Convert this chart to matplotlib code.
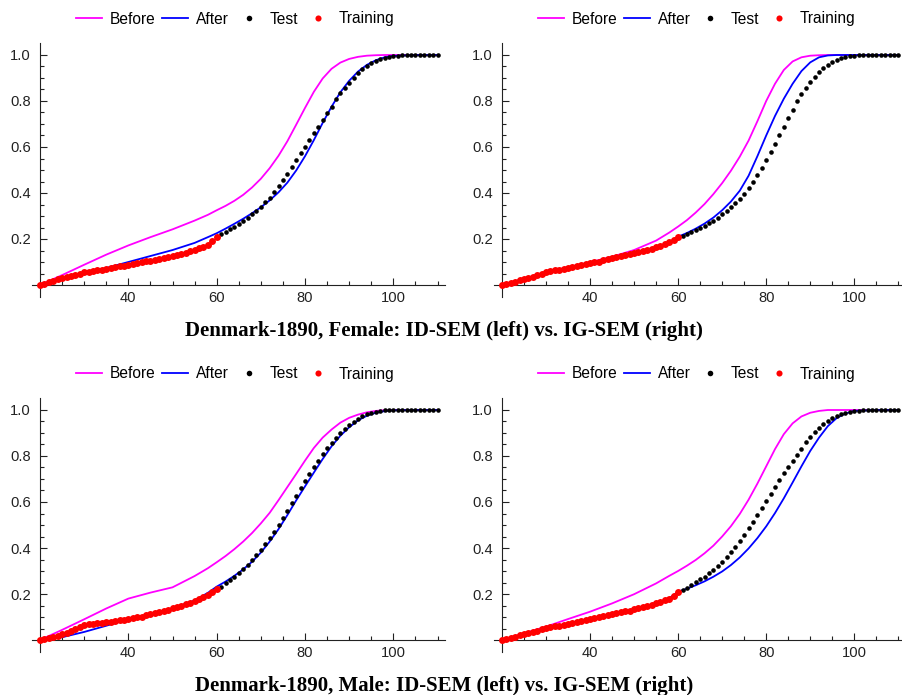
import matplotlib
matplotlib.use("Agg")
import matplotlib.pyplot as plt
from matplotlib.lines import Line2D
import numpy as np

plt.rcParams["font.family"] = ["Liberation Sans", "DejaVu Sans"]

W, H = 902, 695

# ages where the fitted curves were evaluated
ages = [20, 25, 30, 35, 40, 45, 50, 55, 58, 60, 62, 64, 66, 68, 70, 72, 74, 76, 78, 80,
        82, 84, 86, 88, 90, 92, 94, 96, 98, 100, 105, 110]
train_ages = list(range(20, 61))
test_ages = list(range(61, 111))

# Female, ID-SEM
f_id_before = [0, .043, .088, .132, .172, .208, .242, .28, .305, .325, .344, .366, .392, .424,
               .462, .508, .562, .625, .697, .77, .84, .898, .94, .967, .983, .992, .997, .999,
               1, 1, 1, 1]
f_id_after = [0, .03, .052, .074, .1, .126, .152, .183, .208, .225, .245, .266, .288, .312,
              .338, .368, .403, .445, .498, .56, .63, .705, .775, .838, .888, .928, .957, .977,
              .99, .996, 1, 1]
f_id_train = [0, .006, .012, .018, .024, .029, .034, .039, .044, .05, .055, .058, .061, .064,
              .067, .07, .074, .078, .081, .084, .087, .091, .095, .099, .103, .106, .11, .114,
              .118, .122, .126, .131, .136, .141, .146, .152, .159, .167, .176, .19, .207]
f_id_test = [.22, .232, .242, .254, .265, .278, .293, .307, .323, .34,
             .36, .38, .403, .43, .457, .483, .513, .543, .572, .601,
             .63, .66, .688, .717, .746, .775, .807, .833, .858, .88,
             .901, .92, .938, .952, .964, .974, .981, .987, .991, .994,
             .996, .998, .999, 1, 1, 1, 1, 1, 1, 1]

# Female, IG-SEM
f_ig_before = [0, .026, .055, .077, .099, .123, .152, .193, .228, .254, .282, .315, .352, .395,
               .443, .497, .558, .628, .712, .8, .875, .935, .972, .99, .997, .999, 1, 1,
               1, 1, 1, 1]
f_ig_after = [0, .026, .056, .075, .094, .115, .137, .163, .185, .21, .226, .245, .267, .293,
              .325, .363, .41, .475, .56, .65, .735, .81, .875, .93, .968, .99, .998, 1,
              1, 1, 1, 1]
f_ig_train = [0, .005, .01, .015, .02, .025, .031, .036, .042, .05, .058, .061, .064, .067,
              .071, .075, .079, .084, .088, .091, .094, .098, .102, .107, .111, .116, .12, .124,
              .129, .133, .138, .142, .147, .152, .158, .164, .17, .177, .186, .196, .21]
f_ig_test = [.215, .222, .23, .238, .247, .257, .268, .28, .293, .307,
             .322, .339, .357, .376, .397, .42, .447, .478, .51, .545,
             .58, .615, .651, .688, .726, .763, .798, .83, .858, .883,
             .905, .925, .942, .956, .968, .978, .985, .99, .994, .996,
             .998, .999, 1, 1, 1, 1, 1, 1, 1, 1]

# Male, ID-SEM
m_id_before = [0, .044, .09, .137, .18, .206, .229, .278, .312, .338, .365, .395, .428, .465,
               .507, .553, .608, .665, .722, .78, .835, .88, .915, .945, .966, .98, .99, .996,
               .999, 1, 1, 1]
m_id_after = [0, .012, .035, .062, .09, .112, .137, .172, .205, .232, .254, .279, .307, .34,
              .38, .428, .482, .543, .607, .668, .728, .787, .842, .888, .925, .955, .975, .988,
              .995, .999, 1, 1]
m_id_train = [0, .004, .008, .014, .019, .025, .032, .04, .048, .057, .065, .068, .07, .073,
              .075, .077, .08, .082, .085, .088, .091, .094, .098, .102, .107, .112, .116, .12,
              .125, .131, .138, .143, .149, .155, .162, .17, .178, .187, .197, .208, .22]
m_id_test = [.232, .246, .26, .275, .29, .307, .326, .348, .37, .391,
             .417, .443, .471, .5, .529, .561, .594, .626, .659, .691,
             .722, .751, .778, .807, .833, .858, .88, .9, .919, .935,
             .949, .962, .974, .983, .988, .993, .996, .998, 1, 1,
             1, 1, 1, 1, 1, 1, 1, 1, 1, 1]

# Male, IG-SEM
m_ig_before = [0, .029, .058, .091, .123, .159, .199, .246, .279, .3, .323, .348, .377, .41,
               .45, .495, .548, .61, .68, .755, .83, .895, .942, .972, .988, .996, 1, 1,
               1, 1, 1, 1]
m_ig_after = [0, .025, .051, .071, .091, .112, .133, .159, .182, .21, .223, .238, .255, .275,
              .298, .326, .359, .398, .443, .494, .552, .616, .685, .755, .822, .88, .93, .965,
              .985, .996, 1, 1]
m_ig_train = [0, .005, .01, .015, .02, .025, .03, .036, .041, .046, .051, .055, .059, .063,
              .067, .071, .075, .079, .083, .087, .091, .095, .099, .104, .108, .112, .116, .12,
              .124, .128, .133, .138, .143, .148, .153, .159, .165, .172, .18, .192, .21]
m_ig_test = [.217, .228, .239, .251, .264, .275, .29, .304, .323, .341,
             .362, .384, .406, .432, .457, .486, .514, .543, .572, .606,
             .635, .667, .696, .725, .754, .78, .804, .83, .859, .881,
             .903, .922, .939, .952, .964, .975, .983, .988, .993, .996,
             .997, .998, .999, 1, 1, 1, 1, 1, 1, 1]

titles = ["Denmark-1890, Female: ID-SEM (left) vs. IG-SEM (right)",
          "Denmark-1890, Male: ID-SEM (left) vs. IG-SEM (right)"]

# (pixel x of age 20, pixel y of 0, px per year, series)
panels = [
    (40.0, 285, 4.417, f_id_before, f_id_after, f_id_train, f_id_test),
    (501.9, 285, 4.405, f_ig_before, f_ig_after, f_ig_train, f_ig_test),
    (40.0, 640, 4.417, m_id_before, m_id_after, m_id_train, m_id_test),
    (501.9, 640, 4.405, m_ig_before, m_ig_after, m_ig_train, m_ig_test),
]

XLO, XHI = 18.1, 111.7
YLO, YHI = -0.051, 1.053
YPX = 230.0

fig = plt.figure(figsize=(W / 100, H / 100), dpi=100)

for x20, y0, s, before, after, train, test in panels:
    left = x20 - (20 - XLO) * s
    right = x20 + (XHI - 20) * s
    top = y0 - YHI * YPX
    bottom = y0 - YLO * YPX
    ax = fig.add_axes([left / W, 1 - bottom / H, (right - left) / W, (bottom - top) / H])
    ax.set_xlim(XLO, XHI)
    ax.set_ylim(YLO, YHI)
    ax.patch.set_alpha(0)

    ax.plot(ages, before, color="#ff00ff", lw=1.3, zorder=2)
    ax.plot(ages, after, color="#0000ff", lw=1.3, zorder=2)
    ax.plot(test_ages, test, "o", color="black", ms=3.3, mec="none", zorder=3, clip_on=False)
    ax.plot(train_ages, train, "o", color="red", ms=5.0, mec="none", zorder=4, clip_on=False)

    for side in ("top", "right"):
        ax.spines[side].set_visible(False)
    ax.spines["left"].set_position(("data", 20))
    ax.spines["bottom"].set_position(("data", 0))
    for side in ("left", "bottom"):
        ax.spines[side].set_linewidth(0.8)
        ax.spines[side].set_color("#222222")

    ax.set_xticks([40, 60, 80, 100])
    ax.set_xticks([25, 30, 35, 45, 50, 55, 65, 70, 75, 85, 90, 95, 105, 110], minor=True)
    ax.set_yticks([0.2, 0.4, 0.6, 0.8, 1.0])
    ax.set_yticks(np.arange(0.05, 1.0, 0.05), minor=True)
    ax.set_yticklabels(["0.2", "0.4", "0.6", "0.8", "1.0"])
    ax.tick_params(which="both", direction="in", color="#222222", width=0.8,
                   labelsize=10.6, labelcolor="#222222")
    ax.tick_params(which="major", length=5)
    ax.tick_params(which="minor", length=2.8)
    ax.tick_params(axis="x", pad=4)
    ax.tick_params(axis="y", pad=6.5)

    handles = [Line2D([], [], color="#ff00ff", lw=1.3),
               Line2D([], [], color="#0000ff", lw=1.3),
               Line2D([], [], marker="o", ls="none", color="black", ms=4, mec="none"),
               Line2D([], [], marker="o", ls="none", color="red", ms=4.4, mec="none")]
    cx = (x20 + 195) / W
    cy = 1 - (y0 - 266) / H
    fig.legend(handles, ["Before", "After", "Test", "Training"], loc="center",
               bbox_to_anchor=(cx, cy), ncol=4, frameon=False, fontsize=11.2,
               handlelength=1.65, handletextpad=0.5, columnspacing=0.45)

for title, ty in zip(titles, [331, 686]):
    fig.text(444 / W, 1 - ty / H, title, ha="center", va="center",
             family=["Liberation Serif", "DejaVu Serif"], fontweight="bold", fontsize=15)

fig.savefig("out.png", dpi=100)
